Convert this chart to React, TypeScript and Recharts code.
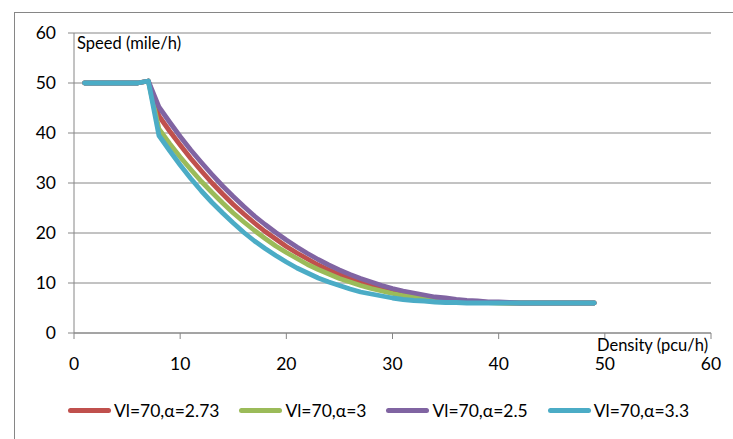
import { LineChart, Line, XAxis, YAxis, CartesianGrid } from 'recharts';

// density (pcu/h), 1..49
const density = [
  1, 2, 3, 4, 5, 6, 7, 8, 9, 10, 11, 12, 13, 14, 15, 16, 17, 18, 19, 20, 21, 22, 23, 24, 25,
  26, 27, 28, 29, 30, 31, 32, 33, 34, 35, 36, 37, 38, 39, 40, 41, 42, 43, 44, 45, 46, 47, 48, 49,
];

// speed (mile/h) per series
const speedA273 = [
  50, 50, 50, 50, 50, 50, 50.4, 43.4, 40.4, 37.6, 34.9, 32.4, 30.0, 27.8, 25.7, 23.8, 22.0,
  20.3, 18.8, 17.3, 16.0, 14.8, 13.6, 12.6, 11.7, 10.9, 10.1, 9.5, 8.9, 8.3, 7.9, 7.5, 7.2,
  6.9, 6.7, 6.5, 6.3, 6.2, 6.1, 6.1, 6, 6, 6, 6, 6, 6, 6, 6, 6,
];
const speedA3 = [
  50, 50, 50, 50, 50, 50, 50.4, 40.8, 37.9, 35.2, 32.7, 30.3, 28.1, 26.0, 24.0, 22.2, 20.5,
  18.9, 17.4, 16.1, 14.9, 13.7, 12.7, 11.8, 10.9, 10.2, 9.5, 8.9, 8.4, 7.9, 7.5, 7.2, 6.9,
  6.7, 6.5, 6.3, 6.2, 6.1, 6.1, 6, 6, 6, 6, 6, 6, 6, 6, 6, 6,
];
const speedA25 = [
  50, 50, 50, 50, 50, 50, 50.4, 45.2, 42.2, 39.3, 36.6, 34.1, 31.7, 29.4, 27.3, 25.3, 23.4,
  21.7, 20.1, 18.6, 17.2, 15.9, 14.7, 13.6, 12.6, 11.7, 10.9, 10.2, 9.5, 8.9, 8.4, 8.0, 7.6,
  7.2, 7.0, 6.7, 6.5, 6.4, 6.2, 6.2, 6.1, 6, 6, 6, 6, 6, 6, 6, 6,
];
const speedA33 = [
  50, 50, 50, 50, 50, 50, 50.4, 39.5, 36.5, 33.6, 30.9, 28.4, 26.1, 24.0, 22.0, 20.1, 18.4,
  16.9, 15.5, 14.2, 13.0, 12.0, 11.0, 10.2, 9.5, 8.8, 8.2, 7.8, 7.4, 7.0, 6.7, 6.5, 6.4,
  6.2, 6.1, 6.1, 6.0, 6, 6, 6, 6, 6, 6, 6, 6, 6, 6, 6, 6,
];

const xTicks = [0, 10, 20, 30, 40, 50, 60];
const yTicks = [0, 10, 20, 30, 40, 50, 60];

const series = [
  { key: 'a273', name: 'Vl=70,α=2.73', color: '#C0504D', values: speedA273 },
  { key: 'a3', name: 'Vl=70,α=3', color: '#9BBB59', values: speedA3 },
  { key: 'a25', name: 'Vl=70,α=2.5', color: '#8064A2', values: speedA25 },
  { key: 'a33', name: 'Vl=70,α=3.3', color: '#4BACC6', values: speedA33 },
];

const data = density.map((d, i) => {
  const row: Record<string, number> = { density: d };
  series.forEach(s => {
    row[s.key] = s.values[i];
  });
  return row;
});

const FONT = 'Lato, "Open Sans", sans-serif';
const GRAY = '#868686';

export default function App() {
  return (
    <div style={{ position: 'absolute', left: 0, top: 0, width: 733, height: 439, background: '#fff', fontFamily: FONT, overflow: 'hidden' }}>
      {/* chart frame (top and left edges visible) */}
      <div style={{ position: 'absolute', left: 14, top: 12, width: 760, height: 460, borderTop: `1px solid ${GRAY}`, borderLeft: `1px solid ${GRAY}` }} />
      <LineChart
        width={733}
        height={439}
        data={data}
        margin={{ top: 33, right: 22, left: 0, bottom: 66 }}
        style={{ position: 'absolute', left: 0, top: 0 }}
      >
        <CartesianGrid horizontal vertical={false} stroke={GRAY} strokeWidth={1} />
        <XAxis
          dataKey="density"
          type="number"
          domain={[0, 60]}
          ticks={xTicks}
          interval={0}
          height={40}
          stroke={GRAY}
          tickSize={6}
          tickMargin={19}
          tick={{ fill: '#000', fontSize: 17.5, fontFamily: FONT }}
        />
        <YAxis
          type="number"
          domain={[0, 60]}
          ticks={yTicks}
          interval={0}
          width={74}
          stroke={GRAY}
          tickSize={6}
          tickMargin={12}
          tick={{ fill: '#000', fontSize: 17.5, fontFamily: FONT }}
        />
        {series.map(s => (
          <Line
            key={s.key}
            dataKey={s.key}
            name={s.name}
            type="linear"
            stroke={s.color}
            strokeWidth={4.8}
            strokeLinecap="round"
            strokeLinejoin="round"
            dot={false}
            activeDot={false}
            isAnimationActive={false}
          />
        ))}
      </LineChart>
      <div style={{ position: 'absolute', left: 77, top: 33, fontSize: 16.5, color: '#000' }}>Speed (mile/h)</div>
      <div style={{ position: 'absolute', left: 597, top: 335, fontSize: 16.5, color: '#000' }}>Density (pcu/h)</div>
      <div style={{ position: 'absolute', left: 68, top: 400, display: 'flex', alignItems: 'center', fontSize: 17.5, color: '#000' }}>
        {series.map(s => (
          <div key={s.key} style={{ display: 'flex', alignItems: 'center', marginRight: 20 }}>
            <span style={{ display: 'inline-block', width: 43, height: 5, borderRadius: 2.5, background: s.color, marginRight: 3 }} />
            <span>{s.name}</span>
          </div>
        ))}
      </div>
    </div>
  );
}
